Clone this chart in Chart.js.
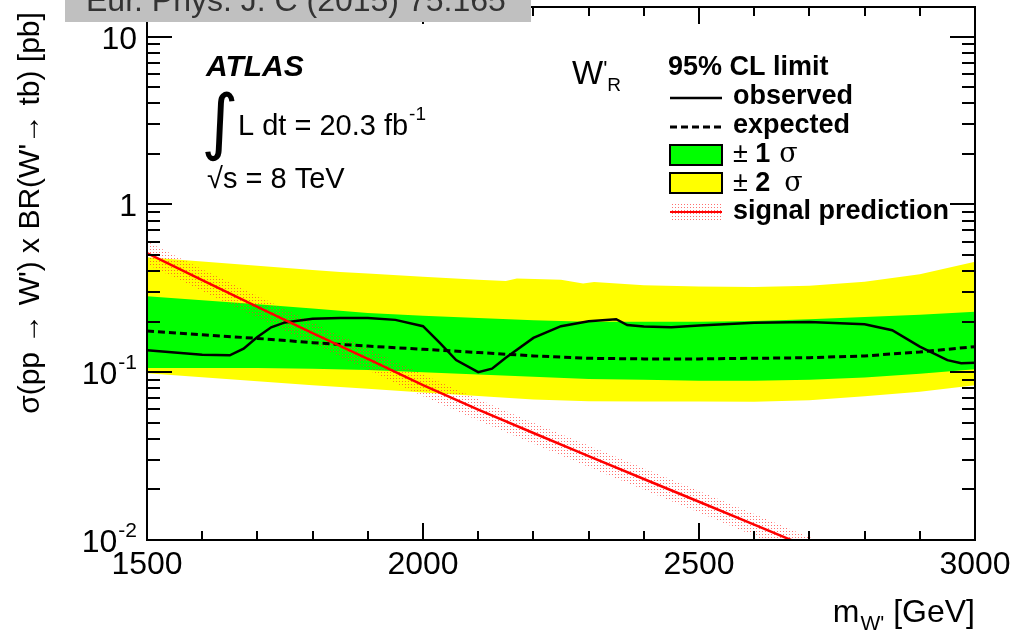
<!DOCTYPE html>
<html><head><meta charset="utf-8">
<script src="https://cdn.jsdelivr.net/npm/chart.js@4.4.1/dist/chart.umd.min.js"></script>
<style>html,body{margin:0;padding:0;background:#fff;overflow:hidden}</style>
</head><body>
<canvas id="c" width="1017" height="635" style="display:block;width:1017px;height:635px"></canvas>
<script>
// ---------------- data ----------------
const massGrid = [1500,1600,1700,1800,1900,2000,2100,2200,2300,2400,2500,2600,2700,2800,2900,3000];
const expected     = [0.176,0.167,0.159,0.150,0.143,0.137,0.131,0.125,0.121,0.120,0.120,0.121,0.122,0.125,0.132,0.142];
const oneSigmaUp   = [0.283,0.268,0.254,0.240,0.225,0.217,0.210,0.204,0.200,0.200,0.200,0.202,0.207,0.213,0.220,0.229];
const oneSigmaDown = [0.106,0.106,0.106,0.105,0.103,0.100,0.097,0.094,0.091,0.090,0.089,0.089,0.090,0.093,0.098,0.104];
const twoSigmaDown = [0.0986,0.0934,0.0884,0.0837,0.0796,0.0757,0.0722,0.0688,0.0671,0.0669,0.0668,0.0667,0.0681,0.0720,0.0765,0.0837];
const twoSigmaUpMass = [1500,1600,1700,1800,1850,1900,2000,2100,2150,2170,2250,2290,2310,2400,2500,2600,2700,2800,2900,3000];
const twoSigmaUp     = [0.484,0.456,0.431,0.407,0.395,0.387,0.371,0.356,0.349,0.361,0.356,0.338,0.345,0.330,0.324,0.322,0.327,0.346,0.383,0.455];
const obsMass  = [1500,1550,1600,1650,1675,1700,1725,1750,1800,1850,1900,1950,2000,2030,2060,2100,2125,2150,2200,2250,2300,2350,2370,2400,2450,2500,2600,2700,2800,2850,2900,2950,2975,3000];
const observed = [0.135,0.131,0.127,0.126,0.138,0.162,0.185,0.198,0.208,0.210,0.210,0.205,0.188,0.150,0.118,0.100,0.105,0.122,0.160,0.188,0.201,0.207,0.191,0.187,0.185,0.190,0.197,0.199,0.193,0.178,0.142,0.118,0.113,0.114];
const signal     = [0.513,0.354,0.245,0.171,0.120,0.0837,0.0598,0.0434,0.0316,0.0231,0.0169,0.01236,0.0090,0.0066,0.0048,0.0035];
const signalUp   = [0.60,0.41,0.285,0.198,0.139,0.097,0.069,0.050,0.0366,0.0268,0.0196,0.0143,0.0104,0.0076,0.0056,0.0041];
const signalDown = [0.44,0.305,0.211,0.147,0.103,0.072,0.0515,0.0374,0.0272,0.0199,0.0146,0.0106,0.0078,0.0057,0.0041,0.0030];
const xTickValues = [1500,2000,2500,3000];
const xTickLabels = ['1500','2000','2500','3000'];
const xMinorStep = 100;
const yTickValues = [0.01,0.1,1,10];
const yTickBase   = ['10','10','1','10'];
const yTickExp    = ['-2','-1','',''];
const xTitleMain = 'm', xTitleSub = "W'", xTitleUnit = ' [GeV]';
const yTitle = "\u03c3(pp \u2192 W') x BR(W'\u2192 tb) [pb]";
const refText = 'Eur. Phys. J. C (2015) 75:165';
const legendHeader = '95% CL limit';
const legendLabels = ['observed','expected','1','2','signal prediction'];

// ---------------- styles ----------------
const FONT = '"Liberation Sans", Arial, sans-serif';
const dotCanvas = document.createElement('canvas');
dotCanvas.width = 3; dotCanvas.height = 3;
const dctx = dotCanvas.getContext('2d');
dctx.fillStyle = 'rgba(255,50,50,0.7)';
dctx.fillRect(0,0,1,1);
const canvas = document.getElementById('c');
const dotPattern = canvas.getContext('2d').createPattern(dotCanvas,'repeat');

function pts(xa, ya){ return xa.map((x,i)=>({x:x, y:ya[i]})); }
const noLine = {borderColor:'rgba(0,0,0,0)', borderWidth:0, pointRadius:0, tension:0};

const decor = {
  id:'decor',
  afterDraw(chart){
    const ctx = chart.ctx, ca = chart.chartArea;
    const xs = chart.scales.x, ys = chart.scales.y;
    ctx.save();
    ctx.fillStyle = '#000'; ctx.strokeStyle = '#000';
    // frame
    ctx.lineWidth = 2;
    ctx.strokeRect(ca.left, ca.top, ca.right-ca.left, ca.bottom-ca.top);
    // x ticks (inward, top and bottom)
    ctx.beginPath();
    for (let m = xs.min; m <= xs.max + 0.1; m += xMinorStep) {
      const px = Math.round(xs.getPixelForValue(m));
      const len = xTickValues.includes(m) ? 17 : 9;
      ctx.moveTo(px, ca.bottom); ctx.lineTo(px, ca.bottom - len);
      ctx.moveTo(px, ca.top); ctx.lineTo(px, ca.top + len);
    }
    // y ticks (inward, left and right)
    for (let d = -2; d <= 1; d++) {
      for (let k = 1; k <= 9; k++) {
        const v = k * Math.pow(10, d);
        if (v < ys.min - 1e-9 || v > ys.max) continue;
        const py = Math.round(ys.getPixelForValue(v));
        const len = k === 1 ? 25 : 13;
        ctx.moveTo(ca.left, py); ctx.lineTo(ca.left + len, py);
        ctx.moveTo(ca.right, py); ctx.lineTo(ca.right - len, py);
      }
    }
    ctx.stroke();

    // x tick labels
    ctx.font = '32px ' + FONT; ctx.textAlign = 'center'; ctx.textBaseline = 'alphabetic';
    xTickValues.forEach((v,i)=>{
      ctx.fillText(xTickLabels[i], xs.getPixelForValue(v), ca.bottom + 34);
    });
    // y tick labels
    ctx.textAlign = 'left';
    yTickValues.forEach((v,i)=>{
      const py = ys.getPixelForValue(v);
      ctx.font = '32px ' + FONT; const wb = ctx.measureText(yTickBase[i]).width;
      ctx.font = '21px ' + FONT; const we = yTickExp[i] ? ctx.measureText(yTickExp[i]).width + 1 : 0;
      const x0 = ca.left - 10 - we - wb;
      ctx.font = '32px ' + FONT; ctx.fillText(yTickBase[i], x0, py + 12);
      if (yTickExp[i]) { ctx.font = '21px ' + FONT; ctx.fillText(yTickExp[i], x0 + wb + 1, py - 3); }
    });

    // x title
    ctx.font = '32px ' + FONT; ctx.textAlign = 'right';
    ctx.fillText(xTitleUnit, ca.right, 622);
    const wu = ctx.measureText(xTitleUnit).width;
    ctx.font = '21px ' + FONT; const ws = ctx.measureText(xTitleSub).width;
    ctx.fillText(xTitleSub, ca.right - wu, 630);
    ctx.font = '32px ' + FONT;
    ctx.fillText(xTitleMain, ca.right - wu - ws - 1, 622);

    // y title
    ctx.save();
    ctx.translate(39, 213); ctx.rotate(-Math.PI/2);
    ctx.font = '30px ' + FONT; ctx.textAlign = 'center';
    ctx.fillText(yTitle, 0, 0);
    ctx.restore();

    // ATLAS block
    ctx.textAlign = 'left';
    ctx.font = 'italic bold 30px ' + FONT;
    ctx.fillText('ATLAS', 206, 76);
    ctx.font = '72px "DejaVu Sans"';
    ctx.fillText('\u222b', 201, 146);
    ctx.font = '29px ' + FONT;
    const lumi = 'L dt = 20.3 fb';
    ctx.fillText(lumi, 238, 135);
    const wl = ctx.measureText(lumi).width;
    ctx.font = '19px ' + FONT;
    ctx.fillText('-1', 238 + wl + 1, 120);
    ctx.font = '29px ' + FONT;
    ctx.fillText('\u221as = 8 TeV', 207, 188);

    // W'_R
    ctx.font = '33px ' + FONT;
    ctx.fillText('W', 572, 84);
    const wW = ctx.measureText('W').width;
    ctx.font = '22px ' + FONT;
    ctx.fillText("'", 572 + wW, 76);
    ctx.font = '19px ' + FONT;
    ctx.fillText('R', 572 + wW + 4, 91);

    // legend
    const lx0 = 670, lx1 = 722, tx = 733;
    ctx.font = 'bold 27px ' + FONT;
    ctx.fillText(legendHeader, 668, 75);
    // observed
    ctx.lineWidth = 2.5; ctx.setLineDash([]);
    ctx.beginPath(); ctx.moveTo(lx0, 98); ctx.lineTo(lx1, 98); ctx.stroke();
    ctx.fillText(legendLabels[0], tx, 104);
    // expected
    ctx.lineWidth = 3; ctx.setLineDash([7,4]);
    ctx.beginPath(); ctx.moveTo(lx0, 127); ctx.lineTo(lx1, 127); ctx.stroke();
    ctx.setLineDash([]);
    ctx.fillText(legendLabels[1], tx, 133);
    // +-1 / +-2 sigma boxes
    ctx.lineWidth = 2;
    ctx.fillStyle = '#00ff00'; ctx.fillRect(lx0, 145, lx1-lx0, 20);
    ctx.strokeRect(lx0, 145, lx1-lx0, 20);
    ctx.fillStyle = '#ffff00'; ctx.fillRect(lx0, 173, lx1-lx0, 20);
    ctx.strokeRect(lx0, 173, lx1-lx0, 20);
    ctx.fillStyle = '#000';
    const drawSig = (num, y, gap) => {
      ctx.font = '27px ' + FONT; ctx.fillText('\u00b1', tx, y);
      let x = tx + ctx.measureText('\u00b1 ').width;
      ctx.font = 'bold 27px ' + FONT; ctx.fillText(num, x, y);
      x += ctx.measureText(num).width + gap;
      ctx.font = '27px "DejaVu Serif", serif'; ctx.fillText('\u03c3', x, y);
    };
    drawSig(legendLabels[2], 162, 9);
    drawSig(legendLabels[3], 191, 14);
    // signal prediction
    ctx.fillStyle = dotPattern; ctx.fillRect(lx0, 203, lx1-lx0, 19);
    ctx.strokeStyle = '#ff0000'; ctx.lineWidth = 2;
    ctx.beginPath(); ctx.moveTo(lx0, 212); ctx.lineTo(lx1, 212); ctx.stroke();
    ctx.fillStyle = '#000'; ctx.font = 'bold 27px ' + FONT;
    ctx.fillText(legendLabels[4], tx, 219);

    // grey reference box on top
    ctx.fillStyle = '#c0c0c0'; ctx.fillRect(65, 0, 466, 22);
    ctx.fillStyle = '#333333'; ctx.font = '32px ' + FONT;
    ctx.fillText(refText, 86, 11);
    ctx.restore();
  }
};

new Chart(canvas, {
  type: 'line',
  data: { datasets: [
    Object.assign({label:'+2s', data: pts(twoSigmaUpMass, twoSigmaUp), fill: 1, backgroundColor:'#ffff00', order: 10}, noLine),
    Object.assign({label:'-2s', data: pts(massGrid, twoSigmaDown), fill: false, order: 9}, noLine),
    Object.assign({label:'+1s', data: pts(massGrid, oneSigmaUp), fill: 3, backgroundColor:'#00ff00', order: 8}, noLine),
    Object.assign({label:'-1s', data: pts(massGrid, oneSigmaDown), fill: false, order: 7}, noLine),
    Object.assign({label:'sig+', data: pts(massGrid, signalUp), fill: 5, backgroundColor: dotPattern, order: 6}, noLine),
    Object.assign({label:'sig-', data: pts(massGrid, signalDown), fill: false, order: 5}, noLine),
    {label:'expected', data: pts(massGrid, expected), borderColor:'#000', borderWidth:3, borderDash:[7,4], pointRadius:0, tension:0, fill:false, order:4},
    {label:'observed', data: pts(obsMass, observed), borderColor:'#000', borderWidth:2.5, pointRadius:0, tension:0, fill:false, order:3},
    {label:'signal', data: pts(massGrid, signal), borderColor:'#ff0000', borderWidth:2.5, pointRadius:0, tension:0, fill:false, order:2}
  ]},
  options: {
    responsive: false, devicePixelRatio: 1, animation: false,
    layout: { padding: { left: 147, right: 42, top: 7, bottom: 95 } },
    plugins: { legend: {display:false}, tooltip: {enabled:false}, title:{display:false} },
    scales: {
      x: { type:'linear', min:1500, max:3000, display:false },
      y: { type:'logarithmic', min:0.01, max:15, display:false }
    }
  },
  plugins: [decor]
});
</script>
</body></html>
